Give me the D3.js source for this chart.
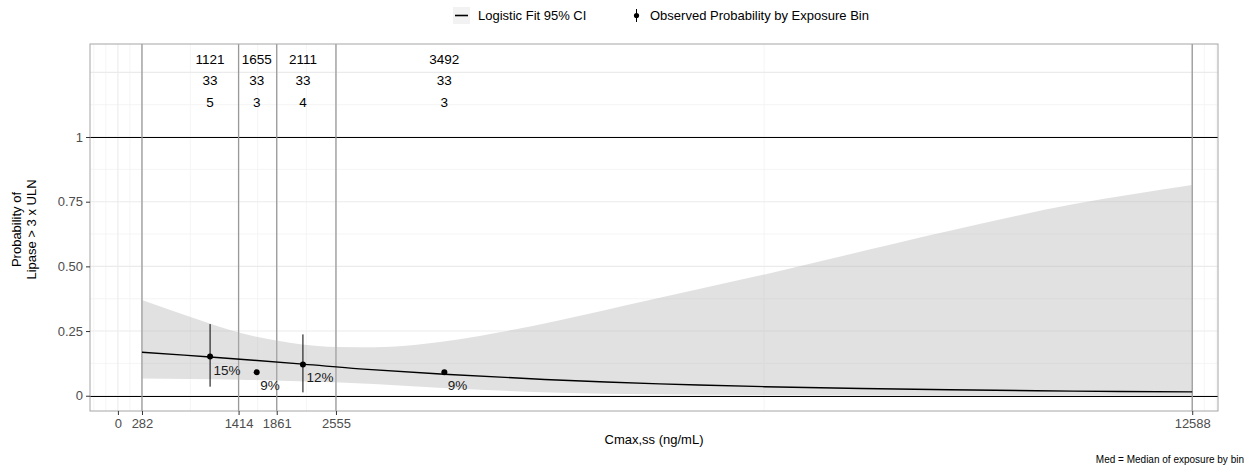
<!DOCTYPE html>
<html>
<head>
<meta charset="utf-8">
<script src="https://cdn.jsdelivr.net/npm/d3@7"></script>
<style>
  html, body { margin: 0; padding: 0; background: #fff; }
  svg { display: block; font-family: "Liberation Sans", Arial, sans-serif; }
</style>
</head>
<body>
<svg id="chart" width="1250" height="466"></svg>
<script>
// ---------------- DATA ----------------
const binMedians = ["1121", "1655", "2111", "3492"];   // median exposure by bin (labels)
const binN = ["33", "33", "33", "33"];                 // subjects per bin
const binEvents = ["5", "3", "4", "3"];                // events per bin
const binCenters = [1080, 1626, 2168, 3825];           // plotted exposure of observed points
const obsProb = [0.1515, 0.0909, 0.1212, 0.0909];      // observed probability
const obsLabels = ["15%", "9%", "12%", "9%"];
const obsLow = [0.035, null, 0.013, null];
const obsHigh = [0.277, null, 0.237, null];

const binEdges = [282, 1414, 1861, 2555, 12588];
const xBreaks = [0, 282, 1414, 1861, 2555, 12588];
const xMinor = [-282, -141, 141, 848, 1637.5, 2208, 7571.5, 12729, 12870];
const yBreaks = [0, 0.25, 0.5, 0.75, 1];
const yLabels = ["0", "0.25", "0.50", "0.75", "1"];
const yGridMajor = [0, 0.25, 0.5, 0.75, 1, 1.25];
const yGridMinor = [0.125, 0.375, 0.625, 0.875, 1.125];

// logistic fit
const fitX = [282, 1080, 2168, 2833, 3825, 5000, 6347, 7580, 9744, 11190, 12588];
const fitP = [0.168, 0.150, 0.122, 0.104, 0.083, 0.063, 0.046, 0.035, 0.023, 0.018, 0.015];

// 95% CI band
const bandX    = [282, 843, 1429, 2015, 2600, 3000, 3500, 4005, 4474, 5177, 6231, 7580, 9749, 11190, 12588];
const bandLow  = [0.067, 0.065, 0.062, 0.057, 0.051, 0.045, 0.036, 0.027, 0.020, 0.012, 0.006, 0.003, 0.001, 0.0005, 0.0003];
const bandHigh = [0.370, 0.305, 0.243, 0.205, 0.188, 0.187, 0.197, 0.218, 0.245, 0.292, 0.370, 0.469, 0.638, 0.740, 0.815];

// ---------------- LAYOUT ----------------
const svg = d3.select("#chart");
const P = { left: 90, right: 1218, top: 44, bottom: 411 };

const x = d3.scaleLinear().domain([-327, 12890]).range([P.left, P.right]);
const y = d3.scaleLinear().domain([-0.059, 1.3595]).range([P.bottom, P.top]);

const g = svg.append("g");

// panel background
g.append("rect").attr("x", P.left).attr("y", P.top)
  .attr("width", P.right - P.left).attr("height", P.bottom - P.top).attr("fill", "#fff");

// minor grid
g.selectAll(".xminor").data(xMinor).join("line")
  .attr("x1", d => x(d)).attr("x2", d => x(d)).attr("y1", P.top).attr("y2", P.bottom)
  .attr("stroke", "#f3f3f3").attr("stroke-width", 0.8);
g.selectAll(".yminor").data(yGridMinor).join("line")
  .attr("x1", P.left).attr("x2", P.right).attr("y1", d => y(d)).attr("y2", d => y(d))
  .attr("stroke", "#f3f3f3").attr("stroke-width", 0.8);
// major grid
g.selectAll(".xmajor").data(xBreaks).join("line")
  .attr("x1", d => x(d)).attr("x2", d => x(d)).attr("y1", P.top).attr("y2", P.bottom)
  .attr("stroke", "#ebebeb").attr("stroke-width", 1.1);
g.selectAll(".ymajor").data(yGridMajor).join("line")
  .attr("x1", P.left).attr("x2", P.right).attr("y1", d => y(d)).attr("y2", d => y(d))
  .attr("stroke", "#ebebeb").attr("stroke-width", 1.1);

// reference lines at 0 and 1
g.selectAll(".hl").data([0, 1]).join("line")
  .attr("x1", P.left).attr("x2", P.right)
  .attr("y1", d => Math.round(y(d)) + 0.5).attr("y2", d => Math.round(y(d)) + 0.5)
  .attr("stroke", "#000").attr("stroke-width", 1.1);

// bin edge vertical lines
g.selectAll(".vl").data(binEdges).join("line")
  .attr("x1", d => x(d)).attr("x2", d => x(d)).attr("y1", P.top).attr("y2", P.bottom)
  .attr("stroke", "#999").attr("stroke-width", 1.3);

// CI band
const area = d3.area()
  .x((d, i) => x(bandX[i]))
  .y0((d, i) => y(bandLow[i]))
  .y1((d, i) => y(bandHigh[i]))
  .curve(d3.curveMonotoneX);
g.append("path").datum(bandX).attr("d", area)
  .attr("fill", "#b3b3b3").attr("fill-opacity", 0.4);

// fit line
const line = d3.line().x((d, i) => x(fitX[i])).y((d, i) => y(fitP[i])).curve(d3.curveCatmullRom.alpha(0.5));
g.append("path").datum(fitX).attr("d", line)
  .attr("fill", "none").attr("stroke", "#000").attr("stroke-width", 1.4);

// error bars
obsProb.forEach((p, i) => {
  if (obsLow[i] != null) {
    g.append("line").attr("x1", x(binCenters[i])).attr("x2", x(binCenters[i]))
      .attr("y1", y(obsLow[i])).attr("y2", y(obsHigh[i]))
      .attr("stroke", "#000").attr("stroke-width", 1);
  }
});
// points
g.selectAll(".pt").data(obsProb).join("circle")
  .attr("cx", (d, i) => x(binCenters[i])).attr("cy", d => y(d)).attr("r", 3)
  .attr("fill", "#000");
// percentage labels
g.selectAll(".pl").data(obsLabels).join("text")
  .attr("x", (d, i) => x(binCenters[i]) + 3.5)
  .attr("y", (d, i) => y(obsProb[i]) + 18)
  .attr("font-size", 13.5).attr("fill", "#1a1a1a").text(d => d);

// top annotation rows
const rows = [[binMedians, 1.298], [binN, 1.218], [binEvents, 1.135]];
rows.forEach(([arr, lev]) => {
  g.selectAll(null).data(arr).join("text")
    .attr("x", (d, i) => x(binCenters[i])).attr("y", y(lev))
    .attr("text-anchor", "middle").attr("dominant-baseline", "central")
    .attr("font-size", 13.5).attr("fill", "#000").text(d => d);
});

// panel border
g.append("rect").attr("x", P.left).attr("y", P.top)
  .attr("width", P.right - P.left).attr("height", P.bottom - P.top)
  .attr("fill", "none").attr("stroke", "#a6a6a6").attr("stroke-width", 1);

// axes
const xAxis = d3.axisBottom(x).tickValues(xBreaks).tickFormat(d => String(d)).tickSizeOuter(0).tickSize(4).tickPadding(4);
const xg = svg.append("g").attr("transform", `translate(0,${P.bottom})`).call(xAxis);
xg.select(".domain").remove();
xg.selectAll("line").attr("stroke", "#333");
xg.selectAll("text").attr("font-size", 13).attr("fill", "#4d4d4d").attr("font-family", "Liberation Sans, Arial, sans-serif");

const yAxis = d3.axisLeft(y).tickValues(yBreaks).tickFormat((d, i) => yLabels[i]).tickSizeOuter(0).tickSize(4).tickPadding(3);
const yg = svg.append("g").attr("transform", `translate(${P.left},0)`).call(yAxis);
yg.select(".domain").remove();
yg.selectAll("line").attr("stroke", "#333");
yg.selectAll("text").attr("font-size", 13).attr("fill", "#4d4d4d").attr("font-family", "Liberation Sans, Arial, sans-serif");

// axis titles
svg.append("text").attr("x", (P.left + P.right) / 2).attr("y", 444)
  .attr("text-anchor", "middle").attr("font-size", 13).attr("fill", "#000")
  .text("Cmax,ss (ng/mL)");
const yt = svg.append("text").attr("transform", `translate(22,${(P.top + P.bottom) / 2 + 2}) rotate(-90)`)
  .attr("text-anchor", "middle").attr("font-size", 13).attr("fill", "#000");
yt.append("tspan").attr("x", 0).attr("dy", "-0.1em").text("Probability of");
yt.append("tspan").attr("x", 0).attr("dy", "1.15em").text("Lipase > 3 x ULN");

// caption
svg.append("text").attr("x", 1244).attr("y", 463).attr("text-anchor", "end")
  .attr("font-size", 10).attr("fill", "#000").text("Med = Median of exposure by bin");

// legend
const lg = svg.append("g");
lg.append("rect").attr("x", 453).attr("y", 7).attr("width", 17).attr("height", 17)
  .attr("fill", "#f2f2f2");
lg.append("line").attr("x1", 455).attr("x2", 468).attr("y1", 15.5).attr("y2", 15.5)
  .attr("stroke", "#000").attr("stroke-width", 1.6);
lg.append("text").attr("x", 478).attr("y", 20).attr("font-size", 13).attr("fill", "#000")
  .text("Logistic Fit 95% CI");
lg.append("line").attr("x1", 636.5).attr("x2", 636.5).attr("y1", 9).attr("y2", 22)
  .attr("stroke", "#000").attr("stroke-width", 1);
lg.append("circle").attr("cx", 636.5).attr("cy", 15.5).attr("r", 2.6).attr("fill", "#000");
lg.append("text").attr("x", 650).attr("y", 20).attr("font-size", 13).attr("fill", "#000")
  .text("Observed Probability by Exposure Bin");
</script>
</body>
</html>
